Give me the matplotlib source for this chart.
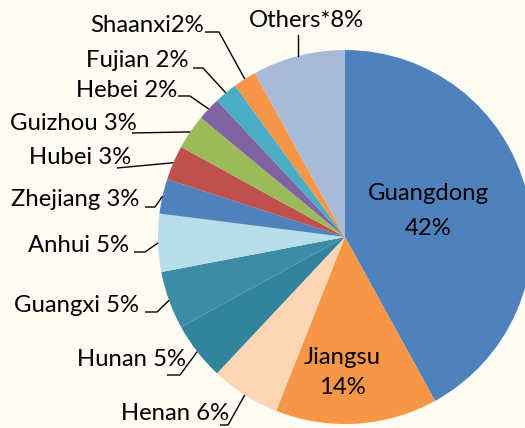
import numpy as np
import matplotlib
matplotlib.use("Agg")
import matplotlib.pyplot as plt

provinces = ["Guangdong", "Jiangsu", "Henan", "Hunan", "Guangxi", "Anhui", "Zhejiang",
             "Hubei", "Guizhou", "Hebei", "Fujian", "Shaanxi", "Others*"]
shares = [42, 14, 6, 5, 5, 5, 3, 3, 3, 2, 2, 2, 8]
label_texts = ["Guangdong\n42%", "Jiangsu\n14%", "Henan 6%", "Hunan 5%", "Guangxi 5%",
               "Anhui 5%", "Zhejiang 3%", "Hubei 3%", "Guizhou 3%", "Hebei 2%",
               "Fujian 2%", "Shaanxi2%", "Others*8%"]
colors = ["#4F81BD", "#F79646", "#FCD5B5", "#31849B", "#3B8CA4", "#B7DEE8", "#4F81BD",
          "#C0504D", "#9BBB59", "#8064A2", "#4BACC6", "#F79646", "#A9B9D8"]

W, H = 525, 428
fig = plt.figure(figsize=(W / 100, H / 100), dpi=100)
bg = "#FEFCF3"
fig.patch.set_facecolor(bg)
ax = fig.add_axes([0, 0, 1, 1])
ax.set_facecolor(bg)

cx, cy_top, R = 345, 237, 187
cy = H - cy_top

def Y(yt):
    return H - yt

ax.pie(shares, colors=colors, startangle=90, counterclock=False,
       center=(cx, cy), radius=R, wedgeprops=dict(edgecolor="none", linewidth=0))
ax.set_xlim(0, W)
ax.set_ylim(0, H)
ax.set_aspect("equal")
ax.axis("off")

FONT = dict(family=["Lato", "DejaVu Sans"], fontsize=17.2, color="black")

total = sum(shares)
cum = np.cumsum([0] + shares)
mid_angles = [np.deg2rad(90 - 360 * (cum[i] + shares[i] / 2) / total) for i in range(len(shares))]

# inside labels (two lines each)
inside = {0: (428, 193, 228), 1: (342, 357, 388)}
for i, (tx, ty1, ty2) in inside.items():
    l1, l2 = label_texts[i].split("\n")
    ax.text(tx, Y(ty1), l1, ha="center", va="center", **FONT)
    ax.text(tx, Y(ty2), l2, ha="center", va="center", **FONT)

# outside labels: text right x, text center y (top coords), elbow points (top coords)
layout = {
    2: (229, 413, [(220, 425), (228, 425)]),
    3: (186, 360, [(167, 375), (180, 375)]),
    4: (139, 305, [(145, 312), (157, 312)]),
    5: (129, 245, [(134, 252), (145, 252)]),
    6: (139, 199, [(145, 207), (155, 207)]),
    7: (131, 157, [(117, 168)]),
    8: (137, 123, [(132, 133)]),
    9: (177, 90, [(178, 96), (190, 96)]),
    10: (189, 60, [(193, 68), (203, 68)]),
    11: (204, 25, [(205, 32), (219, 32)]),
}
for i, (tx, ty, pts) in layout.items():
    ax.text(tx, Y(ty), label_texts[i], ha="right", va="center", **FONT)
    ex = cx + R * np.cos(mid_angles[i])
    ey = cy + R * np.sin(mid_angles[i])
    xs = [p[0] for p in pts] + [ex]
    ys = [Y(p[1]) for p in pts] + [ey]
    ax.plot(xs, ys, color="black", lw=1.0, solid_capstyle="butt")

# Others label
i = 12
ax.text(306, Y(20), label_texts[i], ha="center", va="center", **FONT)
ex = cx + R * np.cos(mid_angles[i])
ey = cy + R * np.sin(mid_angles[i])
ax.plot([ex, ex], [Y(35), ey], color="black", lw=1.0)

fig.savefig("out.png", dpi=100, facecolor=bg)
